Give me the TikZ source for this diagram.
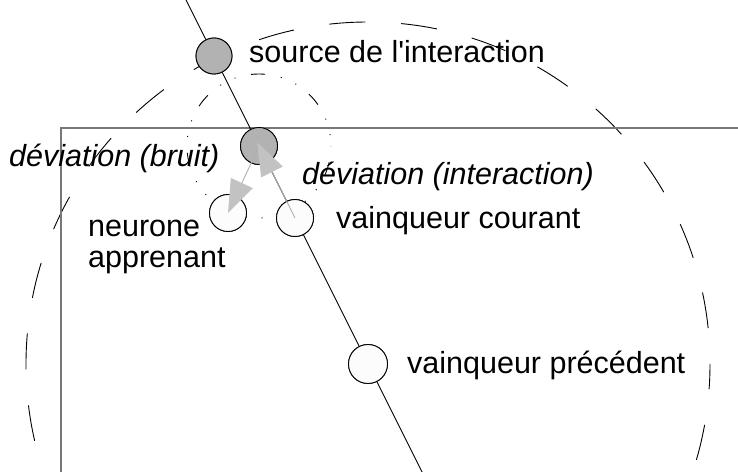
\documentclass[tikz,border=0pt]{standalone}
\usepackage{fontspec}
\setmainfont[Ligatures=TeXOff]{Liberation Sans}
\usetikzlibrary{arrows.meta}
\definecolor{nodegray}{RGB}{178,178,178}
\definecolor{nodewhite}{RGB}{252,252,252}
\definecolor{arrgray}{RGB}{176,176,176}
\definecolor{headgray}{RGB}{194,194,194}
\definecolor{rectgray}{RGB}{120,120,120}
\tikzset{
  neuron/.style={circle, draw=black, line width=0.9pt, inner sep=0pt, minimum size=#1},
  grayneuron/.style={neuron=#1, fill=nodegray},
  whiteneuron/.style={neuron=#1, fill=nodewhite},
  lbl/.style={anchor=base west, inner sep=0pt, font=\fontsize{30.5}{31}\selectfont},
  ilbl/.style={lbl, font=\fontsize{30.5}{31}\selectfont\itshape},
  devarrow/.style={draw=arrgray, line width=0.9pt, -{Triangle[length=33pt,width=24pt,color=headgray,fill=headgray]}},
  bigring/.style={draw=black, line width=0.9pt, dash pattern=on 36pt off 36pt, dash phase=36pt},
  smallring/.style={draw=black, line width=0.9pt, dash pattern=on 14pt off 16pt on 1pt off 15pt on 1pt off 16pt, dash phase=19pt},
}
\begin{document}
\begin{tikzpicture}[x=1pt,y=1pt]
\useasboundingbox (0,0) rectangle (738,471);
\clip (0,0) rectangle (738,471);
% nodes (centres on the main line)
\coordinate (ltop) at (183.5,476);
\coordinate (lbot) at (424,-5);
\node[grayneuron=36pt] (src) at (214,415) {};
\node[grayneuron=37pt] (dev) at (259,325) {};
\node[whiteneuron=37pt] (cour) at (295,253) {};
\node[whiteneuron=37pt] (appr) at (228,258) {};
\node[whiteneuron=39pt] (prec) at (368,107) {};
% rings
\path[bigring] (prec.center) circle[radius=342pt];
\path[smallring] (dev.center) circle[radius=72pt];
% open rectangle
\coordinate (rtr) at (740,343);
\coordinate (rtl) at (61,343);
\coordinate (rbl) at (61,-2);
\draw[rectgray, line width=1.3pt] (rtr) -- (rtl) -- (rbl);
% main line
\draw[black, line width=0.9pt] (ltop) -- (src) -- (dev) -- (cour) -- (prec) -- (lbot);
% redraw nodes on top
\node[grayneuron=36pt] at (src) {};
\node[grayneuron=37pt] at (dev) {};
\node[whiteneuron=37pt] at (cour) {};
\node[whiteneuron=37pt] at (appr) {};
\node[whiteneuron=39pt] at (prec) {};
% deviation arrows
\draw[devarrow] (dev.center) -- (appr.center);
\draw[devarrow, shorten >=-4pt] (cour.center) -- (dev.center);
% labels
\node[lbl] (tsrc) at (249,408) {source de l'interaction};
\node[ilbl] (tbruit) at (9,304) {déviation (bruit)};
\node[ilbl] (tinter) at (302,286) {déviation (interaction)};
\node[lbl] (tcour) at (336,242) {vainqueur courant};
\node[lbl] (tappr1) at (88,234) {neurone};
\node[lbl] (tappr2) at (88,203) {apprenant};
\node[lbl] (tprec) at (407,97) {vainqueur précédent};
\end{tikzpicture}
\end{document}
